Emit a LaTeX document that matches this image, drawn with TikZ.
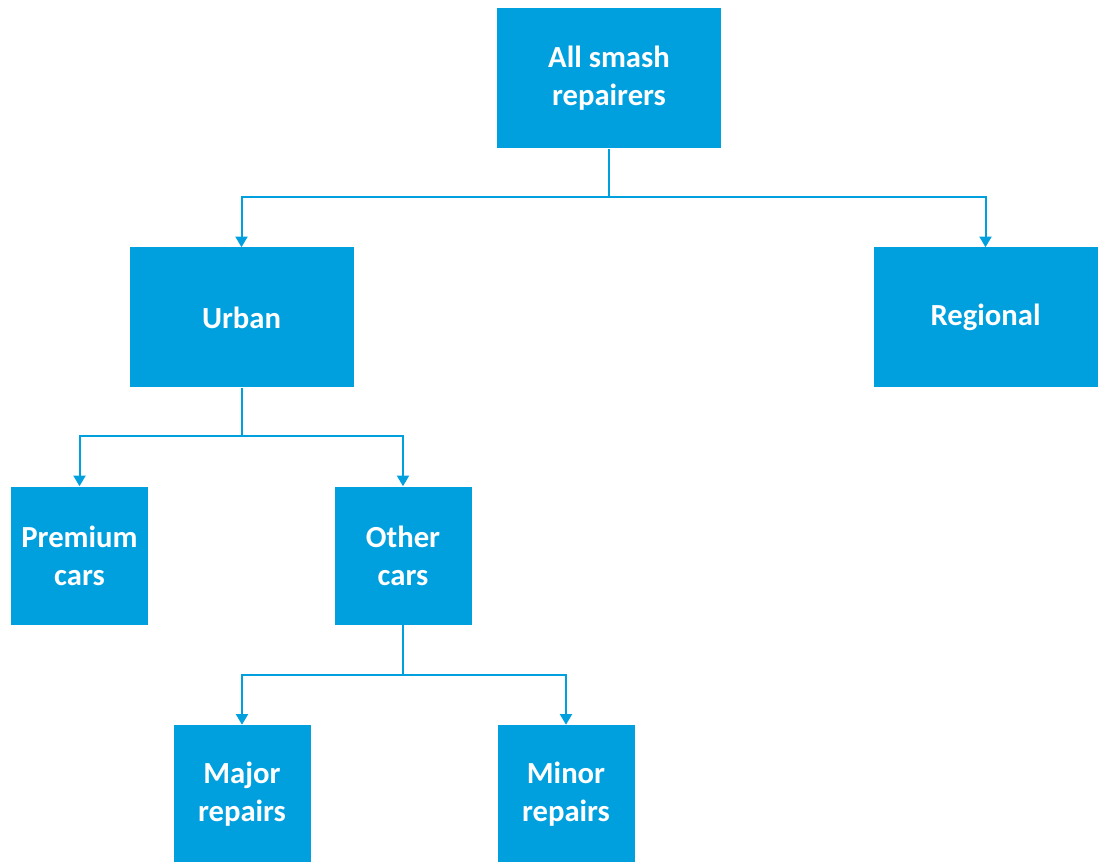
\documentclass[tikz,border=0pt]{standalone}
\usepackage{fontspec}
\setmainfont{Carlito}
\usepackage{xcolor}
\usetikzlibrary{arrows.meta}

\definecolor{boxblue}{HTML}{00A0DF}

\tikzset{
  bigbox/.style={fill=boxblue, text=white, font=\fontsize{23}{28.5}\selectfont\bfseries, align=center, minimum width=168pt, minimum height=105pt, inner sep=0pt},
  smallbox/.style={bigbox, minimum width=102.75pt, minimum height=103.5pt},
  link/.style={draw=boxblue, line width=1.5pt, -{Triangle[width=9pt,length=8pt]}}
}

\begin{document}
\begin{tikzpicture}[x=0.75pt,y=0.75pt,yscale=-1,xscale=1]

\useasboundingbox (0,0) rectangle (1098,862);

\node [bigbox] (all) at (609,78.5) {All smash\\repairers};

\node [bigbox] (urban) at (241.5,317.5) {Urban};

\node [bigbox] (regional) at (985.5,317.5) {Regional};

\node [smallbox] (premium) at (79.5,555.5) {Premium\\cars};

\node [smallbox] (other) at (403,555.5) {Other\\cars};

\node [smallbox] (major) at (242,794) {Major\\repairs};

\node [smallbox] (minor) at (566,794) {Minor\\repairs};


\coordinate (j1) at (609,197);
\coordinate (j2) at (241.5,436);
\coordinate (j3) at (403,675);

\draw [link] (all.south) -- (j1) -| (urban.north);
\draw [link] (j1) -| (regional.north);

\draw [link] (urban.south) -- (j2) -| (premium.north);
\draw [link] (j2) -| (other.north);

\draw [link] (other.south) -- (j3) -| (major.north);
\draw [link] (j3) -| (minor.north);

\end{tikzpicture}
\end{document}
